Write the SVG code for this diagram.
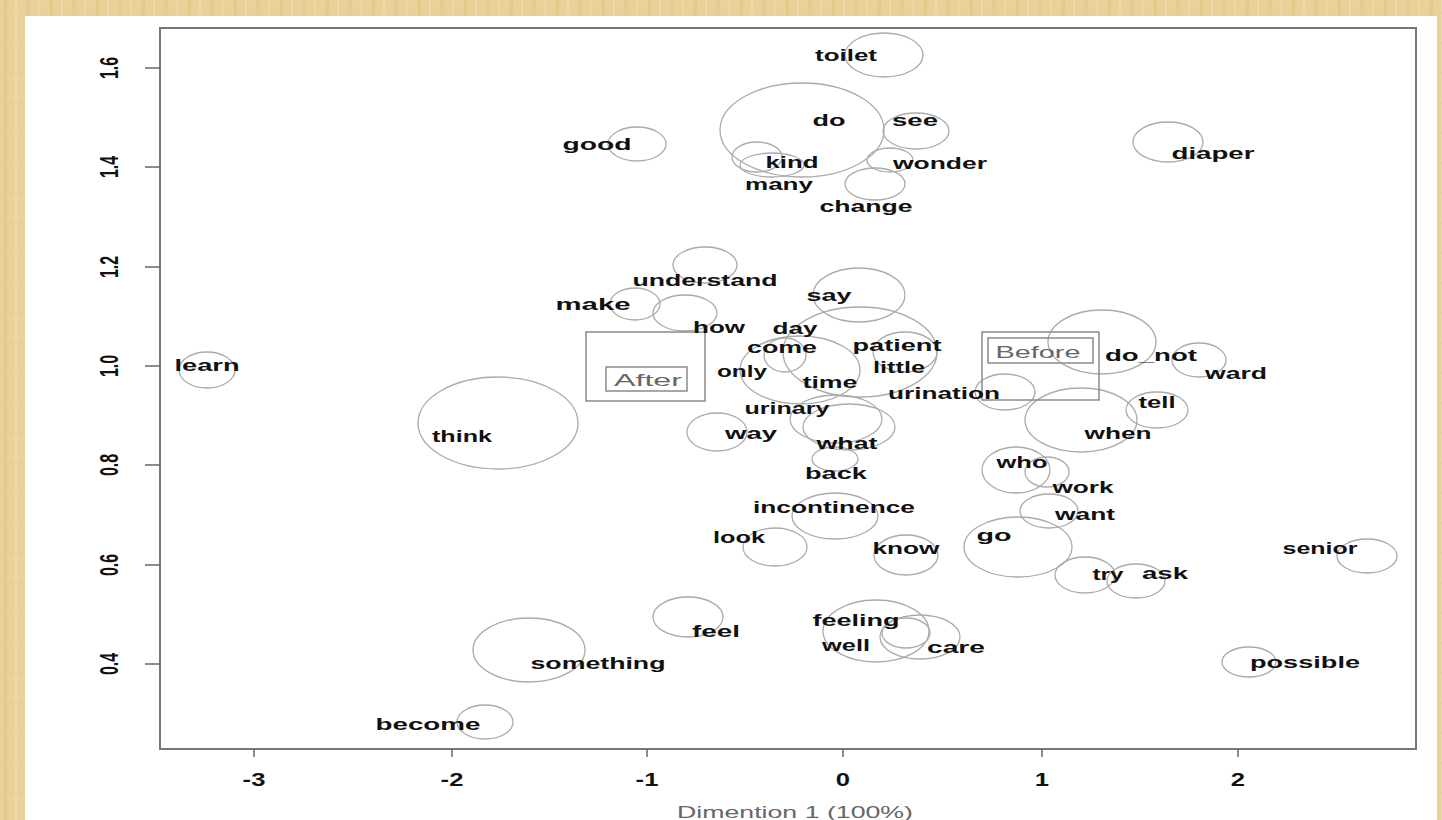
<svg xmlns="http://www.w3.org/2000/svg" width="1442" height="820" viewBox="0 0 1442 820">
<defs>
<pattern id="wood" width="46" height="30" patternUnits="userSpaceOnUse">
<rect width="46" height="30" fill="#E9D19A"/>
<rect x="4" y="0" width="3" height="30" fill="#E0C282" opacity="0.55"/>
<rect x="15" y="0" width="2" height="30" fill="#F2DFB1" opacity="0.6"/>
<rect x="26" y="0" width="4" height="30" fill="#E3C78B" opacity="0.5"/>
<rect x="38" y="0" width="2" height="30" fill="#F0DBA8" opacity="0.6"/>
<rect x="0" y="12" width="46" height="2" fill="#E4C98D" opacity="0.35"/>
</pattern>
<style>
.w{font-family:"Liberation Sans",Arial,sans-serif;font-weight:bold;font-size:17px;fill:#111;text-anchor:middle;dominant-baseline:central}
.c{fill:none;stroke:#ABABAB;stroke-width:1.3}
.tk{stroke:#666;stroke-width:1.5}
.tl{font-family:"Liberation Sans",Arial,sans-serif;font-weight:bold;fill:#111;text-anchor:middle;dominant-baseline:central}
.tx{font-size:19px}
.ty{font-size:16px}
.grp{font-family:"Liberation Sans",Arial,sans-serif;font-size:17px;fill:#666;text-anchor:middle;dominant-baseline:central}
.bx{fill:none;stroke:#8A8A8A;stroke-width:1.5}
</style>
</defs>
<rect width="1442" height="820" fill="url(#wood)"/>
<rect x="25" y="16" width="1412" height="804" fill="#FFFFFF"/>
<rect x="160" y="28" width="1256" height="721" fill="#FFFFFF" stroke="#777" stroke-width="2"/>

<g id="axes">
<line class="tk" x1="254" y1="749" x2="254" y2="757"/>
<line class="tk" x1="452" y1="749" x2="452" y2="757"/>
<line class="tk" x1="647" y1="749" x2="647" y2="757"/>
<line class="tk" x1="843" y1="749" x2="843" y2="757"/>
<line class="tk" x1="1042" y1="749" x2="1042" y2="757"/>
<line class="tk" x1="1238" y1="749" x2="1238" y2="757"/>
<text class="tl tx" transform="translate(254,780) scale(1.35,1)">-3</text>
<text class="tl tx" transform="translate(452,780) scale(1.35,1)">-2</text>
<text class="tl tx" transform="translate(647,780) scale(1.35,1)">-1</text>
<text class="tl tx" transform="translate(843,780) scale(1.35,1)">0</text>
<text class="tl tx" transform="translate(1042,780) scale(1.35,1)">1</text>
<text class="tl tx" transform="translate(1238,780) scale(1.35,1)">2</text>
<line class="tk" x1="145" y1="68" x2="160" y2="68"/>
<line class="tk" x1="145" y1="167" x2="160" y2="167"/>
<line class="tk" x1="145" y1="267" x2="160" y2="267"/>
<line class="tk" x1="145" y1="366" x2="160" y2="366"/>
<line class="tk" x1="145" y1="465" x2="160" y2="465"/>
<line class="tk" x1="145" y1="565" x2="160" y2="565"/>
<line class="tk" x1="145" y1="664" x2="160" y2="664"/>
<text class="tl ty" transform="translate(110,68) scale(1.6,1) rotate(-90)">1.6</text>
<text class="tl ty" transform="translate(110,167) scale(1.6,1) rotate(-90)">1.4</text>
<text class="tl ty" transform="translate(110,267) scale(1.6,1) rotate(-90)">1.2</text>
<text class="tl ty" transform="translate(110,366) scale(1.6,1) rotate(-90)">1.0</text>
<text class="tl ty" transform="translate(110,465) scale(1.6,1) rotate(-90)">0.8</text>
<text class="tl ty" transform="translate(110,565) scale(1.6,1) rotate(-90)">0.6</text>
<text class="tl ty" transform="translate(110,664) scale(1.6,1) rotate(-90)">0.4</text>
<text x="795" y="812" font-family="Liberation Sans, Arial, sans-serif" font-size="17" fill="#666" text-anchor="middle" dominant-baseline="central" textLength="236" lengthAdjust="spacingAndGlyphs">Dimention 1 (100%)</text>
</g>

<g id="circles">
<ellipse class="c" cx="884" cy="55" rx="39" ry="22"/>
<ellipse class="c" cx="802" cy="130" rx="82" ry="47"/>
<ellipse class="c" cx="916" cy="131" rx="33" ry="18"/>
<ellipse class="c" cx="637" cy="144" rx="29" ry="17"/>
<ellipse class="c" cx="757" cy="157" rx="25" ry="15"/>
<ellipse class="c" cx="772" cy="165" rx="32" ry="12"/>
<ellipse class="c" cx="890" cy="160" rx="23" ry="12"/>
<ellipse class="c" cx="875" cy="184" rx="30" ry="16"/>
<ellipse class="c" cx="1168" cy="142" rx="35" ry="20"/>
<ellipse class="c" cx="705" cy="265" rx="32" ry="18"/>
<ellipse class="c" cx="859" cy="295" rx="46" ry="27"/>
<ellipse class="c" cx="635" cy="304" rx="25" ry="16"/>
<ellipse class="c" cx="685" cy="313" rx="32" ry="18"/>
<ellipse class="c" cx="785" cy="355" rx="21" ry="17"/>
<ellipse class="c" cx="800" cy="370" rx="60" ry="34"/>
<ellipse class="c" cx="860" cy="352" rx="77" ry="45"/>
<ellipse class="c" cx="905" cy="352" rx="32" ry="20"/>
<ellipse class="c" cx="207" cy="370" rx="28" ry="18"/>
<ellipse class="c" cx="498" cy="423" rx="80" ry="46"/>
<ellipse class="c" cx="836" cy="419" rx="46" ry="24"/>
<ellipse class="c" cx="849" cy="427" rx="46" ry="23"/>
<ellipse class="c" cx="835" cy="459" rx="23" ry="12"/>
<ellipse class="c" cx="717" cy="432" rx="30" ry="19"/>
<ellipse class="c" cx="835" cy="516" rx="43" ry="23"/>
<ellipse class="c" cx="775" cy="547" rx="32" ry="19"/>
<ellipse class="c" cx="906" cy="555" rx="32" ry="20"/>
<ellipse class="c" cx="1102" cy="342" rx="54" ry="32"/>
<ellipse class="c" cx="1199" cy="360" rx="27" ry="17"/>
<ellipse class="c" cx="1005" cy="392" rx="30" ry="18"/>
<ellipse class="c" cx="1081" cy="420" rx="56" ry="32"/>
<ellipse class="c" cx="1157" cy="410" rx="31" ry="18"/>
<ellipse class="c" cx="1016" cy="470" rx="34" ry="23"/>
<ellipse class="c" cx="1047" cy="472" rx="22" ry="15"/>
<ellipse class="c" cx="1049" cy="511" rx="29" ry="17"/>
<ellipse class="c" cx="1018" cy="547" rx="54" ry="30"/>
<ellipse class="c" cx="1085" cy="575" rx="30" ry="18"/>
<ellipse class="c" cx="1136" cy="581" rx="29" ry="17"/>
<ellipse class="c" cx="1367" cy="556" rx="30" ry="17"/>
<ellipse class="c" cx="529" cy="650" rx="56" ry="32"/>
<ellipse class="c" cx="485" cy="722" rx="28" ry="17"/>
<ellipse class="c" cx="688" cy="617" rx="35" ry="20"/>
<ellipse class="c" cx="876" cy="631" rx="53" ry="31"/>
<ellipse class="c" cx="906" cy="633" rx="24" ry="15"/>
<ellipse class="c" cx="920" cy="637" rx="40" ry="22"/>
<ellipse class="c" cx="1249" cy="662" rx="27" ry="15"/>
</g>

<g id="group-after">
<rect class="bx" x="586" y="332" width="119" height="69"/>
<rect class="bx" x="606" y="367" width="81" height="24"/>
<text class="grp" x="648" y="380" textLength="68" lengthAdjust="spacingAndGlyphs">After</text>
</g>
<g id="group-before">
<rect class="bx" x="982" y="332" width="117" height="68"/>
<rect class="bx" x="988" y="338" width="105" height="25"/>
<text class="grp" x="1038" y="352" textLength="85" lengthAdjust="spacingAndGlyphs">Before</text>
</g>

<g id="labels">
<g id="n-toilet"><text class="w" x="846" y="55" textLength="62" lengthAdjust="spacingAndGlyphs">toilet</text></g>
<g id="n-do"><text class="w" x="829" y="120" textLength="33" lengthAdjust="spacingAndGlyphs">do</text></g>
<g id="n-see"><text class="w" x="915" y="120" textLength="46" lengthAdjust="spacingAndGlyphs">see</text></g>
<g id="n-good"><text class="w" x="597" y="144" textLength="69" lengthAdjust="spacingAndGlyphs">good</text></g>
<g id="n-kind"><text class="w" x="792" y="162" textLength="53" lengthAdjust="spacingAndGlyphs">kind</text></g>
<g id="n-wonder"><text class="w" x="940" y="163" textLength="94" lengthAdjust="spacingAndGlyphs">wonder</text></g>
<g id="n-diaper"><text class="w" x="1213" y="153" textLength="83" lengthAdjust="spacingAndGlyphs">diaper</text></g>
<g id="n-many"><text class="w" x="779" y="184" textLength="68" lengthAdjust="spacingAndGlyphs">many</text></g>
<g id="n-change"><text class="w" x="866" y="206" textLength="93" lengthAdjust="spacingAndGlyphs">change</text></g>
<g id="n-understand"><text class="w" x="705" y="280" textLength="145" lengthAdjust="spacingAndGlyphs">understand</text></g>
<g id="n-say"><text class="w" x="829" y="295" textLength="45" lengthAdjust="spacingAndGlyphs">say</text></g>
<g id="n-make"><text class="w" x="593" y="304" textLength="75" lengthAdjust="spacingAndGlyphs">make</text></g>
<g id="n-how"><text class="w" x="719" y="327" textLength="52" lengthAdjust="spacingAndGlyphs">how</text></g>
<g id="n-day"><text class="w" x="795" y="328" textLength="45" lengthAdjust="spacingAndGlyphs">day</text></g>
<g id="n-come"><text class="w" x="782" y="347" textLength="70" lengthAdjust="spacingAndGlyphs">come</text></g>
<g id="n-patient"><text class="w" x="897" y="345" textLength="89" lengthAdjust="spacingAndGlyphs">patient</text></g>
<g id="n-learn"><text class="w" x="207" y="365" textLength="65" lengthAdjust="spacingAndGlyphs">learn</text></g>
<g id="n-little"><text class="w" x="899" y="367" textLength="52" lengthAdjust="spacingAndGlyphs">little</text></g>
<g id="n-only"><text class="w" x="742" y="371" textLength="50" lengthAdjust="spacingAndGlyphs">only</text></g>
<g id="n-time"><text class="w" x="830" y="382" textLength="55" lengthAdjust="spacingAndGlyphs">time</text></g>
<g id="n-do_not"><text class="w" x="1151" y="355" textLength="92" lengthAdjust="spacingAndGlyphs">do_not</text></g>
<g id="n-ward"><text class="w" x="1236" y="373" textLength="62" lengthAdjust="spacingAndGlyphs">ward</text></g>
<g id="n-urination"><text class="w" x="944" y="393" textLength="112" lengthAdjust="spacingAndGlyphs">urination</text></g>
<g id="n-tell"><text class="w" x="1157" y="402" textLength="37" lengthAdjust="spacingAndGlyphs">tell</text></g>
<g id="n-urinary"><text class="w" x="787" y="408" textLength="85" lengthAdjust="spacingAndGlyphs">urinary</text></g>
<g id="n-way"><text class="w" x="751" y="433" textLength="52" lengthAdjust="spacingAndGlyphs">way</text></g>
<g id="n-what"><text class="w" x="847" y="443" textLength="61" lengthAdjust="spacingAndGlyphs">what</text></g>
<g id="n-think"><text class="w" x="462" y="436" textLength="60" lengthAdjust="spacingAndGlyphs">think</text></g>
<g id="n-when"><text class="w" x="1118" y="433" textLength="67" lengthAdjust="spacingAndGlyphs">when</text></g>
<g id="n-who"><text class="w" x="1022" y="462" textLength="51" lengthAdjust="spacingAndGlyphs">who</text></g>
<g id="n-back"><text class="w" x="836" y="473" textLength="62" lengthAdjust="spacingAndGlyphs">back</text></g>
<g id="n-work"><text class="w" x="1083" y="487" textLength="61" lengthAdjust="spacingAndGlyphs">work</text></g>
<g id="n-incontinence"><text class="w" x="834" y="507" textLength="162" lengthAdjust="spacingAndGlyphs">incontinence</text></g>
<g id="n-want"><text class="w" x="1085" y="514" textLength="60" lengthAdjust="spacingAndGlyphs">want</text></g>
<g id="n-look"><text class="w" x="739" y="537" textLength="52" lengthAdjust="spacingAndGlyphs">look</text></g>
<g id="n-go"><text class="w" x="994" y="535" textLength="35" lengthAdjust="spacingAndGlyphs">go</text></g>
<g id="n-know"><text class="w" x="906" y="548" textLength="67" lengthAdjust="spacingAndGlyphs">know</text></g>
<g id="n-senior"><text class="w" x="1320" y="548" textLength="75" lengthAdjust="spacingAndGlyphs">senior</text></g>
<g id="n-try"><text class="w" x="1108" y="574" textLength="31" lengthAdjust="spacingAndGlyphs">try</text></g>
<g id="n-ask"><text class="w" x="1165" y="573" textLength="46" lengthAdjust="spacingAndGlyphs">ask</text></g>
<g id="n-feeling"><text class="w" x="856" y="620" textLength="87" lengthAdjust="spacingAndGlyphs">feeling</text></g>
<g id="n-feel"><text class="w" x="716" y="631" textLength="48" lengthAdjust="spacingAndGlyphs">feel</text></g>
<g id="n-well"><text class="w" x="846" y="645" textLength="48" lengthAdjust="spacingAndGlyphs">well</text></g>
<g id="n-care"><text class="w" x="956" y="647" textLength="58" lengthAdjust="spacingAndGlyphs">care</text></g>
<g id="n-something"><text class="w" x="598" y="663" textLength="135" lengthAdjust="spacingAndGlyphs">something</text></g>
<g id="n-possible"><text class="w" x="1305" y="662" textLength="110" lengthAdjust="spacingAndGlyphs">possible</text></g>
<g id="n-become"><text class="w" x="428" y="724" textLength="105" lengthAdjust="spacingAndGlyphs">become</text></g>
</g>
</svg>
